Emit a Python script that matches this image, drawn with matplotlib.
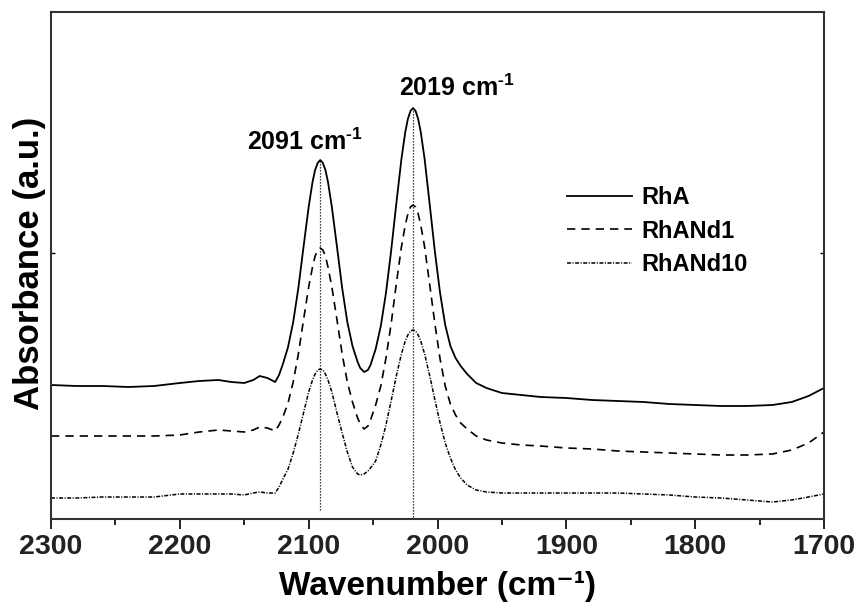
import matplotlib
matplotlib.use("Agg")
import matplotlib.pyplot as plt

plt.rcParams['font.family'] = ['Liberation Sans', 'DejaVu Sans']
plt.rcParams['font.weight'] = 'bold'
plt.rcParams['mathtext.fontset'] = 'custom'
plt.rcParams['mathtext.rm'] = 'Liberation Sans:bold'
plt.rcParams['mathtext.bf'] = 'Liberation Sans:bold'
plt.rcParams['mathtext.default'] = 'rm'

# wavenumber grid (cm-1)
wavenumber = [2300, 2280, 2260, 2240, 2220, 2200, 2185, 2170, 2160, 2150,
              2143, 2138, 2132, 2126, 2123, 2120, 2116, 2112, 2108, 2104, 2100,
              2097, 2095, 2093, 2091, 2089, 2087, 2085, 2082, 2078, 2074, 2070, 2066,
              2062, 2060, 2057, 2054, 2052, 2048, 2044, 2040, 2036, 2032, 2028, 2025,
              2023, 2021, 2019, 2017, 2015, 2013, 2010, 2006, 2002, 1998, 1994, 1990,
              1986, 1982, 1977, 1970, 1962, 1950, 1935, 1920, 1900, 1880,
              1860, 1840, 1820, 1800, 1780, 1760, 1740, 1725, 1712, 1700]

# absorbance (a.u., offset traces)
rha = [1.34, 1.33, 1.33, 1.32, 1.33, 1.36, 1.38, 1.39, 1.37, 1.36,
       1.39, 1.43, 1.41, 1.37, 1.44, 1.55, 1.72, 1.97, 2.31, 2.72, 3.12,
       3.37, 3.49, 3.56, 3.59, 3.56, 3.49, 3.37, 3.12, 2.72, 2.31, 1.97, 1.73,
       1.57, 1.51, 1.47, 1.49, 1.54, 1.70, 1.93, 2.26, 2.68, 3.15, 3.60, 3.87,
       4.00, 4.08, 4.11, 4.08, 4.00, 3.87, 3.60, 3.14, 2.67, 2.26, 1.94, 1.73,
       1.61, 1.53, 1.45, 1.36, 1.31, 1.26, 1.24, 1.22, 1.21, 1.19,
       1.18, 1.17, 1.15, 1.14, 1.13, 1.13, 1.14, 1.17, 1.23, 1.31]

rhand1 = [0.83, 0.83, 0.83, 0.83, 0.83, 0.84, 0.87, 0.89, 0.88, 0.87,
          0.89, 0.92, 0.91, 0.88, 0.94, 1.02, 1.16, 1.37, 1.65, 1.99, 2.32,
          2.52, 2.63, 2.69, 2.71, 2.69, 2.63, 2.52, 2.32, 1.99, 1.65, 1.37, 1.17,
          1.01, 0.95, 0.90, 0.93, 0.99, 1.14, 1.33, 1.61, 1.95, 2.35, 2.72, 2.94,
          3.05, 3.12, 3.14, 3.12, 3.05, 2.94, 2.72, 2.34, 1.95, 1.60, 1.33, 1.15,
          1.04, 0.96, 0.90, 0.83, 0.79, 0.76, 0.74, 0.73, 0.71, 0.70,
          0.68, 0.67, 0.66, 0.65, 0.64, 0.64, 0.65, 0.69, 0.76, 0.87]

rhand10 = [0.21, 0.21, 0.22, 0.22, 0.22, 0.25, 0.25, 0.25, 0.25, 0.24,
           0.26, 0.27, 0.26, 0.26, 0.32, 0.40, 0.50, 0.66, 0.85, 1.06, 1.27,
           1.39, 1.45, 1.49, 1.50, 1.49, 1.45, 1.39, 1.27, 1.06, 0.86, 0.67, 0.52,
           0.45, 0.44, 0.45, 0.48, 0.51, 0.58, 0.74, 0.94, 1.18, 1.43, 1.65, 1.78,
           1.84, 1.88, 1.89, 1.88, 1.84, 1.78, 1.65, 1.43, 1.19, 0.96, 0.76, 0.61,
           0.49, 0.41, 0.34, 0.29, 0.27, 0.26, 0.26, 0.26, 0.26, 0.26,
           0.26, 0.25, 0.24, 0.22, 0.21, 0.19, 0.17, 0.19, 0.22, 0.25]

peaks = [2091, 2019]
peak_tops = [3.59, 4.11]
peak_bottoms = [0.09, 0.02]
peak_labels = [r'2091 cm$^{\text{-1}}$', r'2019 cm$^{\text{-1}}$']

fig = plt.figure(figsize=(8.61, 6.03), dpi=100)
ax = fig.add_axes([51 / 861, 84 / 603, 773 / 861, 507 / 603])

ax.plot(wavenumber, rha, color='black', lw=1.3, solid_joinstyle='round', label='RhA')
ax.plot(wavenumber, rhand1, color='black', lw=1.2, linestyle=(0, (5, 3.6)), label='RhANd1')
ax.plot(wavenumber, rhand10, color='black', lw=1.1,
        linestyle=(0, (2.6, 1.0, 0.7, 1.0)), label='RhANd10')

# dotted peak markers
for p, top, bot in zip(peaks, peak_tops, peak_bottoms):
    ax.vlines(p, bot, top, color='black', lw=0.9, linestyle=(0, (1, 1.4)))

ax.text(2148, 3.77, peak_labels[0], fontsize=18, fontweight='bold', va='center', ha='left')
ax.text(2029.5, 4.31, peak_labels[1], fontsize=18, fontweight='bold', va='center', ha='left')

ax.set_xlim(2300, 1700)
ax.set_ylim(0, 5.07)
ax.set_xticks([2300, 2200, 2100, 2000, 1900, 1800, 1700])
ax.set_xticks([2250, 2150, 2050, 1950, 1850, 1750], minor=True)
ax.set_yticks([2.66])
ax.set_yticklabels([])
ax.tick_params(axis='x', which='major', direction='out', length=7, width=1.4,
               labelsize=20.5, pad=4, colors='#222222')
ax.tick_params(axis='x', which='minor', direction='out', length=4, width=1.2)
ax.tick_params(axis='y', direction='in', length=3, width=1.0, right=True)
for lab in ax.get_xticklabels():
    lab.set_fontweight('bold')

for s in ax.spines.values():
    s.set_linewidth(1.5)
    s.set_color('#333333')

ax.set_xlabel('Wavenumber (cm\u207b\u00b9)', fontsize=24, fontweight='bold')
ax.xaxis.label.set_va('bottom')
ax.xaxis.set_label_coords(0.5, -0.1637)
ax.set_ylabel('Absorbance (a.u.)', fontsize=25, fontweight='bold')
ax.yaxis.set_label_coords(-0.007, 0.505)

ax.legend(loc='upper left', bbox_to_anchor=(0.6675, 0.657), frameon=False,
          fontsize=17, handlelength=2.75, handletextpad=0.42, labelspacing=0.45,
          borderpad=0, borderaxespad=0)

fig.savefig('out.png', dpi=100)
